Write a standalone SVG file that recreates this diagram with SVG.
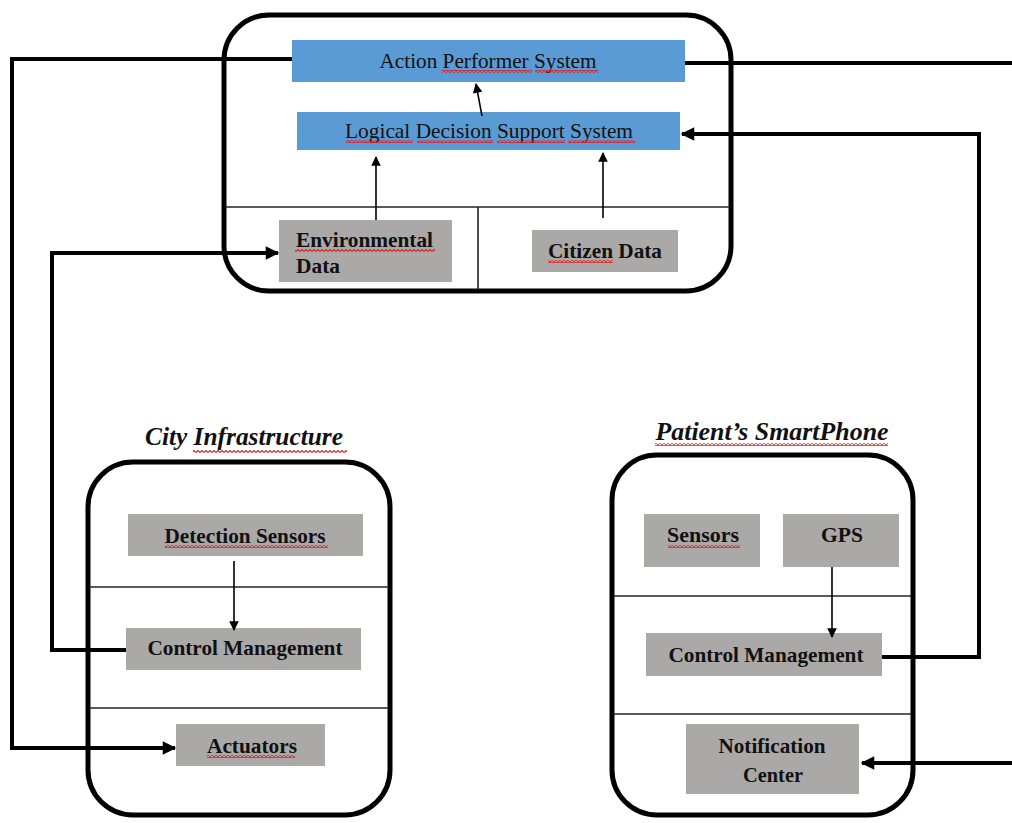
<svg xmlns="http://www.w3.org/2000/svg" width="1012" height="823" viewBox="0 0 1012 823">
  <style>
    .frame { fill: none; stroke: #000; stroke-width: 5; }
    .divider { stroke: #222; stroke-width: 1.6; }
    .blue { fill: #5B9BD5; }
    .grey { fill: #ABA8A8; }
    .lbl { font-family: "Liberation Serif", "Times New Roman", serif; font-size: 22px; fill: #111; }
    .bold { font-weight: bold; }
    .title { font-family: "Liberation Serif", "Times New Roman", serif; font-size: 25px; font-weight: bold; font-style: italic; fill: #111; }
    .link { fill: none; stroke: #000; stroke-width: 4; }
    .thin { fill: none; stroke: #000; stroke-width: 1.6; }
    .wave { fill: url(#squiggle); }
  </style>
  <defs>
    <pattern id="squiggle" patternUnits="userSpaceOnUse" width="4" height="3">
      <polyline points="0,2.5 2,0.5 4,2.5" fill="none" stroke="#E02020" stroke-width="1.1"/>
    </pattern>
    <marker id="headBig" viewBox="0 0 10 10" refX="9" refY="5" markerWidth="3.6" markerHeight="3.4" orient="auto" markerUnits="strokeWidth">
      <path d="M0,0 L10,5 L0,10 Z" fill="#000"/>
    </marker>
    <marker id="headSmall" viewBox="0 0 10 10" refX="9" refY="5" markerWidth="7" markerHeight="6" orient="auto" markerUnits="strokeWidth">
      <path d="M0,0 L10,5 L0,10 Z" fill="#000"/>
    </marker>
  </defs>

  <rect width="1012" height="823" fill="#fff"/>

  <!-- central platform -->
  <g id="platform">
    <rect class="frame" x="224" y="15" width="507" height="276" rx="45"/>
    <line class="divider" x1="225" y1="207" x2="730" y2="207"/>
    <line class="divider" x1="478" y1="207" x2="478" y2="290"/>
  </g>

  <g id="action-performer">
    <rect class="blue" x="292" y="40" width="393" height="42"/>
    <text class="lbl" x="488" y="68" text-anchor="middle" textLength="217" lengthAdjust="spacingAndGlyphs">Action Performer System</text>
    <rect class="wave" x="442" y="70" width="90" height="3"/>
    <rect class="wave" x="535" y="70" width="63" height="3"/>
  </g>

  <g id="decision-support">
    <rect class="blue" x="297" y="112" width="383" height="38"/>
    <text class="lbl" x="489" y="138" text-anchor="middle" textLength="288" lengthAdjust="spacingAndGlyphs">Logical Decision Support System</text>
    <rect class="wave" x="346" y="140" width="67" height="3"/>
    <rect class="wave" x="417" y="140" width="76" height="3"/>
    <rect class="wave" x="497" y="140" width="68" height="3"/>
    <rect class="wave" x="568" y="140" width="67" height="3"/>
  </g>

  <g id="environmental-data">
    <rect class="grey" x="279" y="220" width="173" height="62"/>
    <text class="lbl bold" x="296" y="247" textLength="137" lengthAdjust="spacingAndGlyphs">Environmental</text>
    <text class="lbl bold" x="296" y="273" textLength="44" lengthAdjust="spacingAndGlyphs">Data</text>
    <rect class="wave" x="295" y="249" width="140" height="3"/>
  </g>

  <g id="citizen-data">
    <rect class="grey" x="532" y="230" width="146" height="42"/>
    <text class="lbl bold" x="605" y="258" text-anchor="middle" textLength="114" lengthAdjust="spacingAndGlyphs">Citizen Data</text>
    <rect class="wave" x="548" y="260" width="65" height="3"/>
  </g>

  <!-- city infrastructure -->
  <g id="city-infrastructure">
    <text class="title" x="244" y="445" text-anchor="middle" textLength="198" lengthAdjust="spacingAndGlyphs">City Infrastructure</text>
    <rect class="wave" x="193" y="450" width="154" height="3"/>
    <rect class="frame" x="88" y="462" width="302" height="353" rx="45"/>
    <line class="divider" x1="89" y1="587" x2="389" y2="587"/>
    <line class="divider" x1="89" y1="708" x2="389" y2="708"/>
  </g>

  <g id="detection-sensors">
    <rect class="grey" x="128" y="514" width="235" height="42"/>
    <text class="lbl bold" x="245" y="543" text-anchor="middle" textLength="161" lengthAdjust="spacingAndGlyphs">Detection Sensors</text>
    <rect class="wave" x="165" y="545" width="163" height="3"/>
  </g>

  <g id="city-control">
    <rect class="grey" x="126" y="628" width="235" height="42"/>
    <text class="lbl bold" x="245" y="655" text-anchor="middle" textLength="195" lengthAdjust="spacingAndGlyphs">Control Management</text>
  </g>

  <g id="actuators">
    <rect class="grey" x="176" y="724" width="149" height="42"/>
    <text class="lbl bold" x="252" y="753" text-anchor="middle" textLength="90" lengthAdjust="spacingAndGlyphs">Actuators</text>
    <rect class="wave" x="207" y="755" width="88" height="3"/>
  </g>

  <!-- patient's smartphone -->
  <g id="smartphone">
    <text class="title" x="772" y="440" text-anchor="middle" textLength="233" lengthAdjust="spacingAndGlyphs">Patient’s SmartPhone</text>
    <rect class="wave" x="655" y="443" width="233" height="3"/>
    <rect class="frame" x="612" y="455" width="301" height="360" rx="45"/>
    <line class="divider" x1="613" y1="596" x2="911" y2="596"/>
    <line class="divider" x1="613" y1="714" x2="911" y2="714"/>
  </g>

  <g id="phone-sensors">
    <rect class="grey" x="644" y="514" width="116" height="53"/>
    <text class="lbl bold" x="703" y="542" text-anchor="middle" textLength="72" lengthAdjust="spacingAndGlyphs">Sensors</text>
    <rect class="wave" x="668" y="545" width="72" height="3"/>
  </g>

  <g id="gps">
    <rect class="grey" x="783" y="514" width="116" height="53"/>
    <text class="lbl bold" x="842" y="542" text-anchor="middle" textLength="42" lengthAdjust="spacingAndGlyphs">GPS</text>
  </g>

  <g id="phone-control">
    <rect class="grey" x="646" y="633" width="236" height="43"/>
    <text class="lbl bold" x="766" y="662" text-anchor="middle" textLength="195" lengthAdjust="spacingAndGlyphs">Control Management</text>
  </g>

  <g id="notification-center">
    <rect class="grey" x="686" y="724" width="173" height="70"/>
    <text class="lbl bold" x="772" y="753" text-anchor="middle" textLength="107" lengthAdjust="spacingAndGlyphs">Notification</text>
    <text class="lbl bold" x="773" y="782" text-anchor="middle" textLength="60" lengthAdjust="spacingAndGlyphs">Center</text>
  </g>

  <!-- connectors -->
  <g id="connectors">
    <line class="thin" x1="482" y1="116" x2="476" y2="84" marker-end="url(#headSmall)"/>
    <line class="thin" x1="376" y1="220" x2="376" y2="157" marker-end="url(#headSmall)"/>
    <line class="thin" x1="603" y1="218" x2="603" y2="153" marker-end="url(#headSmall)"/>
    <line class="thin" x1="234" y1="561" x2="234" y2="630" marker-end="url(#headSmall)"/>
    <line class="thin" x1="832" y1="567" x2="832" y2="637" marker-end="url(#headSmall)"/>

    <polyline class="link" points="292,59 12,59 12,748 175,748" marker-end="url(#headBig)"/>
    <polyline class="link" points="126,650 52,650 52,253 278,253" marker-end="url(#headBig)"/>
    <polyline class="link" points="685,63 1012,63"/>
    <polyline class="link" points="882,657 979,657 979,134 682,134" marker-end="url(#headBig)"/>
    <polyline class="link" points="1012,763 862,763" marker-end="url(#headBig)"/>
  </g>
</svg>
